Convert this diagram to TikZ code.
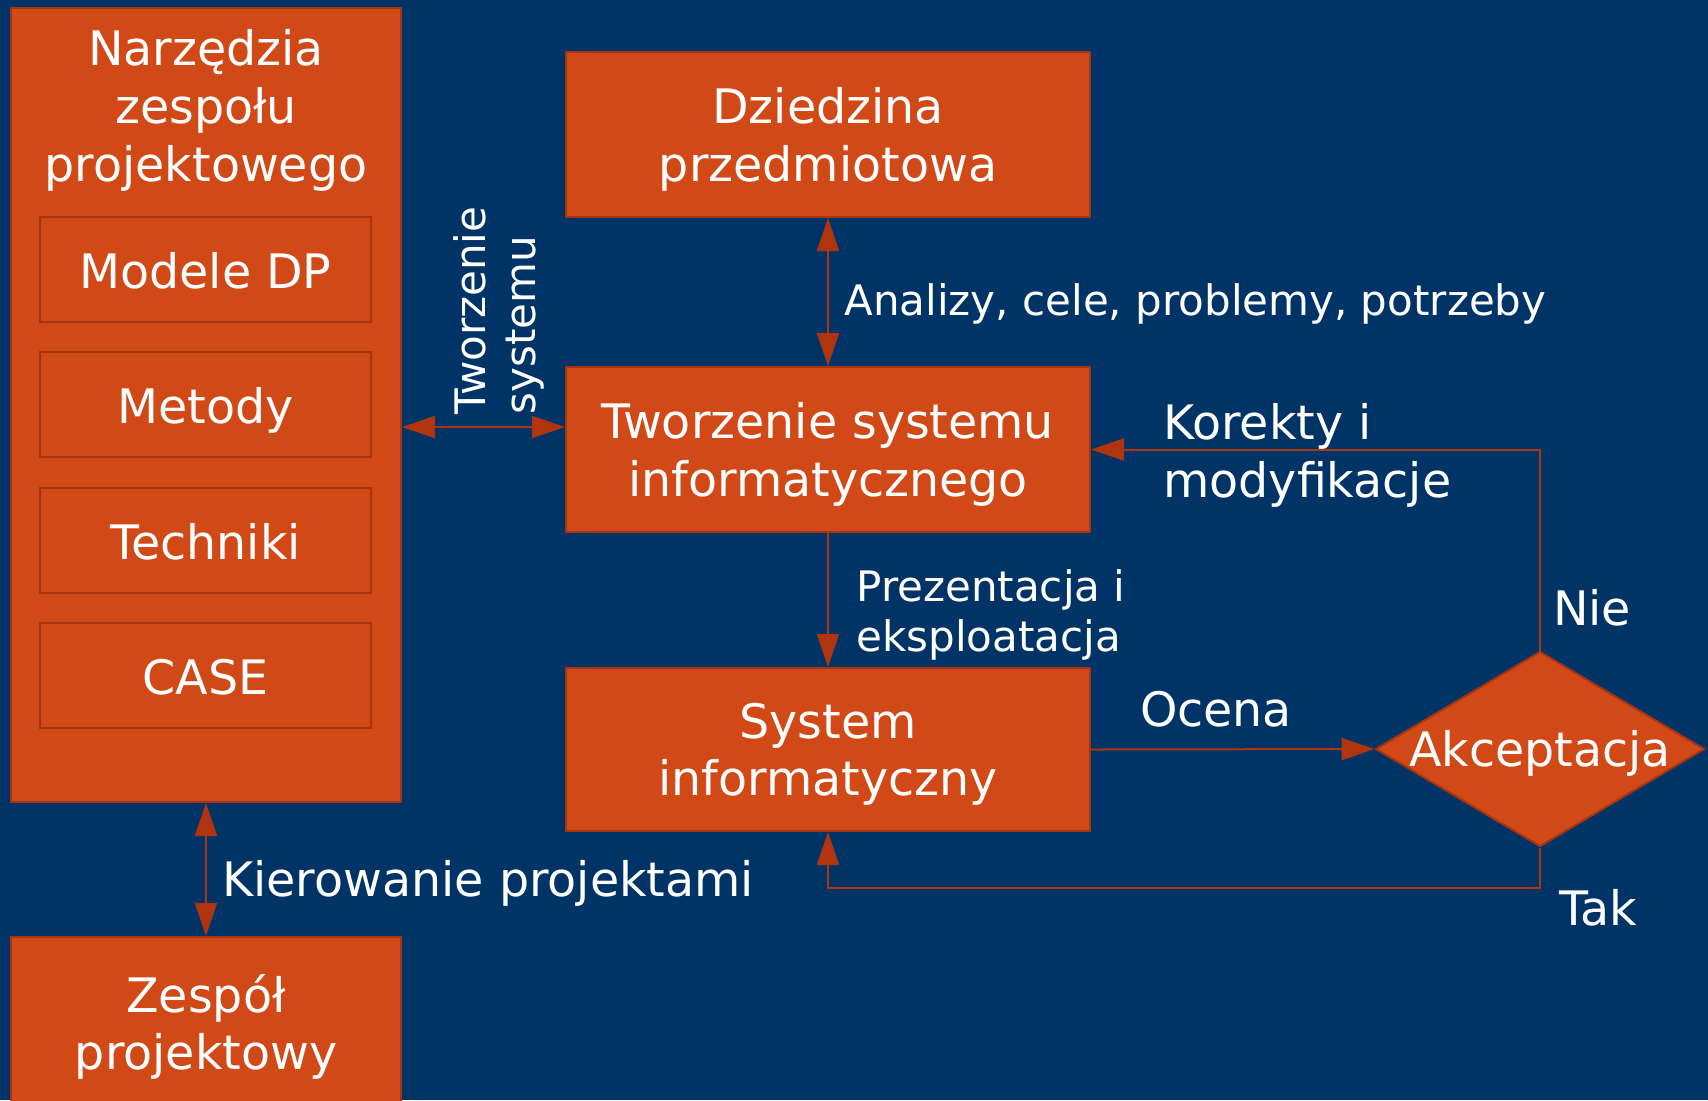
\documentclass[tikz,border=0pt]{standalone}
\usepackage{fontspec}
\setmainfont{DejaVu Sans}
\usetikzlibrary{arrows.meta,shapes.geometric}
\definecolor{bgblue}{RGB}{0,52,102}
\definecolor{boxfill}{RGB}{210,73,24}
\definecolor{boxline}{RGB}{165,52,18}
\definecolor{arrowred}{RGB}{176,52,14}
\begin{document}
\begin{tikzpicture}[x=0.5pt,y=-0.5pt,
  bigfont/.style={font=\fontsize{23.75pt}{28.85pt}\selectfont},
  smallfont/.style={font=\fontsize{21pt}{25pt}\selectfont},
  block/.style={draw=boxline,line width=1pt,fill=boxfill,text=white,
    align=center,inner sep=0pt,bigfont},
  toolbox/.style={block,text height=19.2pt,text depth=0pt,
    minimum width=165.5pt,minimum height=52.5pt},
  mainbox/.style={block,text depth=-2pt,minimum width=262pt,minimum height=82.5pt},
  lbl/.style={text=white,inner sep=0pt,bigfont},
  slbl/.style={text=white,inner sep=0pt,smallfont},
  >={Triangle[length=16.5pt,width=11pt]},
  conn/.style={draw=arrowred,line width=1pt}]
  % page and background
  \useasboundingbox (0,0) rectangle (1708,1100);
  \clip (0,0) rectangle (1708,1100);
  \fill[bgblue] (0,0) rectangle (1708,1100);

  % tools of the project team
  \node[block,minimum width=195pt,minimum height=397pt] (tools) at (206,405) {};
  \node[lbl,align=center] (toolstitle) at (206,110.5) {Narzędzia\\zespołu\\projektowego};
  \node[toolbox] (models) at (205.5,269.5) {Modele DP};
  \node[toolbox] (methods) at (205.5,404.5) {Metody};
  \node[toolbox] (techniques) at (205.5,540) {Techniki};
  \node[toolbox] (case) at (205.5,675) {CASE};

  % project team
  \node[mainbox,text depth=0pt,minimum width=195pt,minimum height=85pt] (team) at (206,1022) {Zespół\\projektowy};

  % main flow
  \node[mainbox] (domain) at (828,134.5) {Dziedzina\\przedmiotowa};
  \node[mainbox] (dev) at (828,449.5) {Tworzenie systemu\\informatycznego};
  \node[mainbox,minimum height=81.5pt] (sys) at (828,749.5) {System\\informatyczny};
  \node[shape=diamond,draw=boxline,line width=1pt,fill=boxfill,inner sep=0pt,
        minimum width=164.5pt,minimum height=97.5pt,
        label={[lbl,yshift=-2.2pt]center:Akceptacja}] (accept) at (1540,749) {};

  % connectors
  \coordinate (devlink) at (0,427);
  \draw[conn,<->] (tools.east |- devlink) -- (dev.west |- devlink);
  \draw[conn,<->] (tools.south) -- (team.north);
  \draw[conn,<->] (domain.south) -- (dev.north);
  \draw[conn,->] (dev.south) -- (sys.north);
  \draw[conn,->] (sys.east) -- (accept.west);
  \draw[conn,->] (accept.north) |- (dev.east);
  \draw[conn,->] (accept.south) -- ++(0,40) -| (sys.south);

  % connector labels
  \node[slbl,align=left,rotate=90,anchor=west] (devlbl) at (499,415) {Tworzenie\\systemu};
  \node[lbl,anchor=west] (mgmt) at (222,883.5) {Kierowanie projektami};
  \node[slbl,anchor=west] (analysis) at (844,303.5) {Analizy, cele, problemy, potrzeby};
  \node[slbl,anchor=west,align=left] (present) at (856,614.5) {Prezentacja i\\eksploatacja};
  \node[lbl,anchor=west,align=left] (fixes) at (1163,455.5) {Korekty i\\modyfikacje};
  \node[lbl] (rating) at (1216,709) {Ocena};
  \node[lbl] (no) at (1592,608) {Nie};
  \node[lbl] (yes) at (1598,908) {Tak};
\end{tikzpicture}
\end{document}
